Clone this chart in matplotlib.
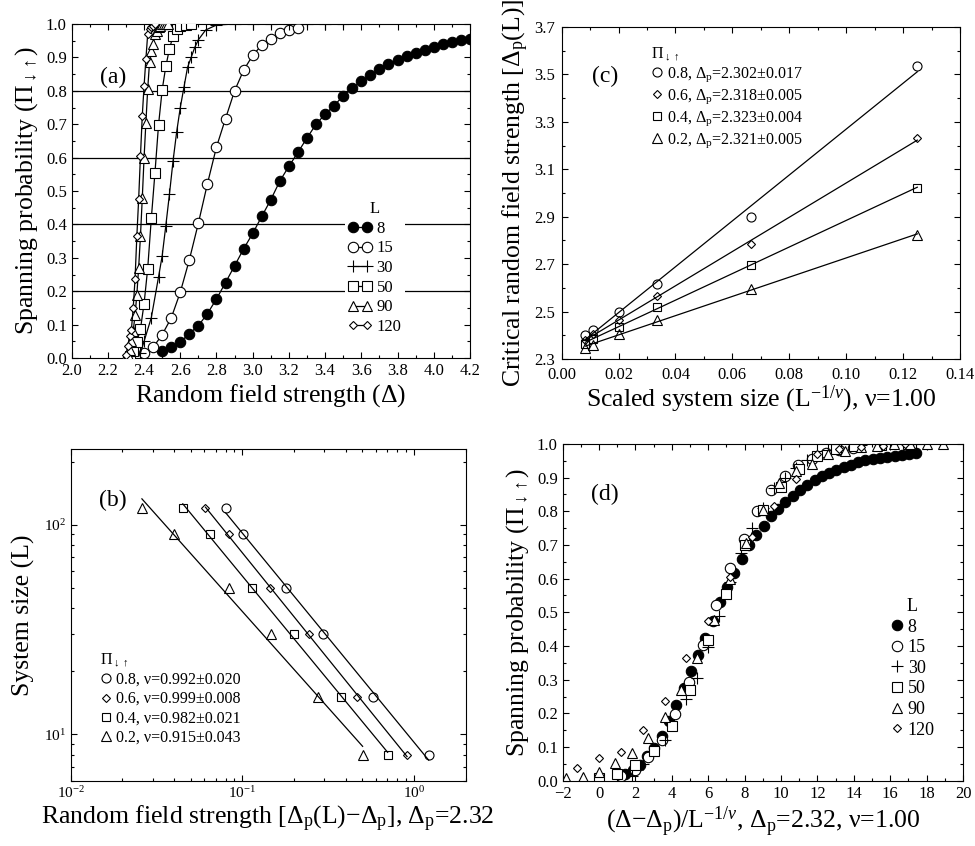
import numpy as np
import matplotlib
matplotlib.use("Agg")
import matplotlib.pyplot as plt
from matplotlib.ticker import MultipleLocator, FormatStrFormatter, NullFormatter

plt.rcParams['font.family'] = ['Liberation Serif', 'DejaVu Serif']
plt.rcParams['mathtext.fontset'] = 'custom'
plt.rcParams['mathtext.rm'] = 'Liberation Serif'
plt.rcParams['mathtext.it'] = 'Liberation Serif:italic'
plt.rcParams['mathtext.bf'] = 'Liberation Serif:bold'
plt.rcParams['axes.linewidth'] = 0.8

# === Daten: Spannwahrscheinlichkeit vs. Feldstaerke ===
sizes = [8, 15, 30, 50, 90, 120]
delta_p = 2.32

x8 = [2.50, 2.55, 2.60, 2.65, 2.70, 2.75, 2.80, 2.85, 2.90, 2.95, 3.00, 3.05, 3.10, 3.15,
      3.20, 3.25, 3.30, 3.35, 3.40, 3.45, 3.50, 3.55, 3.60, 3.65, 3.70, 3.75, 3.80, 3.85,
      3.90, 3.95, 4.00, 4.05, 4.10, 4.15, 4.20, 4.25, 4.30, 4.35, 4.40, 4.45, 4.50]
y8 = [0.020, 0.033, 0.048, 0.073, 0.097, 0.133, 0.177, 0.226, 0.276, 0.327, 0.373, 0.424, 0.474, 0.530,
      0.574, 0.616, 0.659, 0.700, 0.730, 0.756, 0.785, 0.808, 0.829, 0.846, 0.864, 0.879, 0.892, 0.904,
      0.914, 0.923, 0.931, 0.939, 0.945, 0.951, 0.955, 0.958, 0.961, 0.964, 0.967, 0.970, 0.973]

x15 = [2.40, 2.45, 2.50, 2.55, 2.60, 2.65, 2.70, 2.75, 2.80, 2.85, 2.90, 2.95, 3.00, 3.05,
       3.10, 3.15, 3.20, 3.25]
y15 = [0.014, 0.032, 0.070, 0.120, 0.197, 0.294, 0.404, 0.522, 0.632, 0.717, 0.800, 0.862, 0.906, 0.937,
       0.956, 0.972, 0.982, 0.989]

x30 = [2.38, 2.40, 2.44, 2.48, 2.50, 2.52, 2.54, 2.56, 2.58, 2.60, 2.62, 2.64, 2.66, 2.68,
       2.70, 2.74, 2.80, 2.90, 3.00, 3.10, 3.20, 3.30, 3.40, 3.50]
y30 = [0.015, 0.050, 0.121, 0.243, 0.306, 0.396, 0.490, 0.590, 0.677, 0.750, 0.810, 0.870, 0.900, 0.930,
       0.953, 0.982, 0.997, 1.0, 1.0, 1.0, 1.0, 1.0, 1.0, 1.0]

x50 = [2.32, 2.34, 2.36, 2.38, 2.40, 2.42, 2.44, 2.46, 2.48, 2.50, 2.52, 2.54, 2.56, 2.58,
       2.60, 2.63, 2.66]
y50 = [0.007, 0.020, 0.047, 0.087, 0.163, 0.268, 0.418, 0.554, 0.699, 0.803, 0.873, 0.925, 0.965, 0.985,
       0.993, 0.998, 1.0]

x90 = [2.30, 2.31, 2.32, 2.33, 2.34, 2.35, 2.36, 2.37, 2.38, 2.39, 2.40, 2.41, 2.42, 2.43,
       2.44, 2.45, 2.46, 2.47, 2.48, 2.49, 2.50, 2.51, 2.52, 2.53]
y90 = [0.007, 0.010, 0.025, 0.052, 0.081, 0.128, 0.190, 0.270, 0.365, 0.478, 0.600, 0.705, 0.805, 0.885,
       0.920, 0.940, 0.970, 0.980, 0.990, 0.995, 1.0, 1.0, 1.0, 1.0]

x120 = [2.30, 2.31, 2.32, 2.33, 2.34, 2.35, 2.36, 2.37, 2.38, 2.39, 2.40, 2.41, 2.42, 2.43,
        2.44, 2.45, 2.46]
y120 = [0.010, 0.037, 0.066, 0.085, 0.150, 0.236, 0.364, 0.475, 0.605, 0.725, 0.815, 0.895, 0.970, 0.985,
        0.990, 0.995, 1.0]

# === Daten: kritische Feldstaerke Delta_p(L) fuer die vier Schwellen ===
pi_levels = [0.8, 0.6, 0.4, 0.2]
dpL_08 = [3.537, 2.898, 2.615, 2.499, 2.421, 2.400]
dpL_06 = [3.231, 2.783, 2.564, 2.465, 2.404, 2.381]
dpL_04 = [3.022, 2.698, 2.521, 2.434, 2.385, 2.365]
dpL_02 = [2.822, 2.597, 2.466, 2.404, 2.360, 2.346]
labels_c = ['0.8, $\\Delta_{\\rm p}$=2.302±0.017', '0.6, $\\Delta_{\\rm p}$=2.318±0.005',
            '0.4, $\\Delta_{\\rm p}$=2.323±0.004', '0.2, $\\Delta_{\\rm p}$=2.321±0.005']
labels_b = ['0.8, ν=0.992±0.020', '0.6, ν=0.999±0.008',
            '0.4, ν=0.982±0.021', '0.2, ν=0.915±0.043']

curves = [(x8, y8), (x15, y15), (x30, y30), (x50, y50), (x90, y90), (x120, y120)]
dpL_all = [dpL_08, dpL_06, dpL_04, dpL_02]

# Markerstile pro L
mk = {8: dict(marker='o', ms=7.5, mfc='black'),
      15: dict(marker='o', ms=7.5, mfc='white'),
      30: dict(marker='+', ms=8.5, mfc='none'),
      50: dict(marker='s', ms=6.5, mfc='white'),
      90: dict(marker='^', ms=7.5, mfc='white'),
      120: dict(marker='D', ms=3.8, mfc='white')}
mk_pi = [dict(marker='o', ms=6.5), dict(marker='D', ms=3.6),
         dict(marker='s', ms=5.8), dict(marker='^', ms=6.5)]


def style(ax, size=12):
    ax.tick_params(which='both', direction='in', top=True, right=True, labelsize=size,
                   width=0.8, colors='black')
    ax.tick_params(which='major', length=4.5)
    ax.tick_params(which='minor', length=2.2)


fig = plt.figure(figsize=(9.75, 8.46), dpi=100)
ax_a = fig.add_axes([0.0735, 0.5768, 0.4085, 0.3948])
ax_c = fig.add_axes([0.5761, 0.5757, 0.4085, 0.3924])
ax_b = fig.add_axes([0.0725, 0.0772, 0.4051, 0.3920])
ax_d = fig.add_axes([0.5771, 0.0772, 0.4106, 0.3980])

# === (a) ===
for yh in [0.2, 0.4, 0.6, 0.8]:
    ax_a.axhline(yh, color='black', lw=0.9, zorder=1)
for L, (xs, ys) in zip(sizes, curves):
    ax_a.plot(xs, ys, color='black', lw=0.9, mec='black', mew=0.8, label=str(L), zorder=3, **mk[L])
ax_a.set_xlim(2.0, 4.2)
ax_a.set_ylim(0.0, 1.0)
ax_a.xaxis.set_major_locator(MultipleLocator(0.2))
ax_a.xaxis.set_minor_locator(MultipleLocator(0.1))
ax_a.yaxis.set_major_locator(MultipleLocator(0.1))
ax_a.yaxis.set_minor_locator(MultipleLocator(0.05))
ax_a.xaxis.set_major_formatter(FormatStrFormatter('%.1f'))
ax_a.yaxis.set_major_formatter(FormatStrFormatter('%.1f'))
style(ax_a)
ax_a.set_xlabel('Random field strength ($\\Delta$)', fontsize=18.5, labelpad=2)
ax_a.set_ylabel('Spanning probability ($\\Pi_{\\downarrow\\uparrow}$)', fontsize=18.5, labelpad=4)
ax_a.text(0.105, 0.84, '(a)', transform=ax_a.transAxes, fontsize=17, ha='center', va='center')
leg = ax_a.legend(title='L', loc='upper left', bbox_to_anchor=(0.665, 0.505), numpoints=2,
                  handlelength=1.4, handletextpad=0.3, labelspacing=0.22, fontsize=12,
                  title_fontsize=12, frameon=True, fancybox=False, borderpad=0.2)
leg.get_frame().set_edgecolor('none')
leg.get_frame().set_facecolor('white')
leg.get_frame().set_alpha(1)

# === (c) ===
inv_L = [1.0 / L for L in sizes]
for dp, st, lab in zip(dpL_all, mk_pi, labels_c):
    coef = np.polyfit(inv_L, dp, 1)
    xf = np.array([min(inv_L), max(inv_L)])
    ax_c.plot(xf, np.polyval(coef, xf), color='black', lw=0.9)
    ax_c.plot(inv_L, dp, ls='none', mfc='none', mec='black', mew=0.8, label=lab, **st)
ax_c.set_xlim(0.0, 0.14)
ax_c.set_ylim(2.3, 3.7)
ax_c.xaxis.set_major_locator(MultipleLocator(0.02))
ax_c.xaxis.set_minor_locator(MultipleLocator(0.01))
ax_c.yaxis.set_major_locator(MultipleLocator(0.2, offset=0.1))
ax_c.yaxis.set_minor_locator(MultipleLocator(0.1))
ax_c.xaxis.set_major_formatter(FormatStrFormatter('%.2f'))
ax_c.yaxis.set_major_formatter(FormatStrFormatter('%.1f'))
style(ax_c)
ax_c.tick_params(axis='x', which='major', pad=6)
ax_c.tick_params(axis='y', which='major', pad=5)
ax_c.set_xlabel('Scaled system size (L$^{-1/\\nu}$), ν=1.00', fontsize=18.5, labelpad=0)
ax_c.set_ylabel('Critical random field strength [$\\Delta_{\\rm p}$(L)]', fontsize=18.5, labelpad=2)
ax_c.text(0.11, 0.85, '(c)', transform=ax_c.transAxes, fontsize=17, ha='center', va='center')
ax_c.legend(title='$\\Pi_{\\downarrow\\uparrow}$', loc='upper left', bbox_to_anchor=(0.2, 0.975),
            numpoints=1, handlelength=0.8, handletextpad=0.2, labelspacing=0.2, fontsize=11.5,
            title_fontsize=11.5, frameon=False, borderpad=0.1, alignment='left')

# === (b) ===
for dp, st, lab in zip(dpL_all, mk_pi, labels_b):
    dx = np.array(dp) - delta_p
    coef = np.polyfit(np.log10(dx), np.log10(sizes), 1)
    xf = np.array([dx.min(), dx.max()])
    ax_b.plot(xf, 10 ** np.polyval(coef, np.log10(xf)), color='black', lw=0.9)
    ax_b.plot(dx, sizes, ls='none', mfc='none', mec='black', mew=0.8, label=lab, **st)
ax_b.set_xscale('log')
ax_b.set_yscale('log')
ax_b.set_xlim(0.01, 2.0)
ax_b.set_ylim(6, 230)
ax_b.xaxis.set_minor_formatter(NullFormatter())
ax_b.yaxis.set_minor_formatter(NullFormatter())
style(ax_b, size=11)
ax_b.set_xlabel('Random field strength [$\\Delta_{\\rm p}$(L)−$\\Delta_{\\rm p}$], $\\Delta_{\\rm p}$=2.32',
                fontsize=18.5, labelpad=2)
ax_b.set_ylabel('System size (L)', fontsize=18.5, labelpad=6)
ax_b.text(0.107, 0.846, '(b)', transform=ax_b.transAxes, fontsize=17, ha='center', va='center')
ax_b.legend(title='$\\Pi_{\\downarrow\\uparrow}$', loc='upper left', bbox_to_anchor=(0.05, 0.42),
            numpoints=1, handlelength=0.8, handletextpad=0.2, labelspacing=0.2, fontsize=11.5,
            title_fontsize=11.5, frameon=False, borderpad=0.1, alignment='left')

# === (d) Skalierung ===
for L, (xs, ys) in zip(sizes, curves):
    xs_scaled = (np.array(xs) - delta_p) * L
    ax_d.plot(xs_scaled, ys, ls='none', mec='black', mew=0.8, label=str(L), **mk[L])
ax_d.set_xlim(-2, 20)
ax_d.set_ylim(0.0, 1.0)
ax_d.xaxis.set_major_locator(MultipleLocator(2))
ax_d.xaxis.set_minor_locator(MultipleLocator(1))
ax_d.yaxis.set_major_locator(MultipleLocator(0.1))
ax_d.yaxis.set_minor_locator(MultipleLocator(0.05))
ax_d.yaxis.set_major_formatter(FormatStrFormatter('%.1f'))
style(ax_d)
ax_d.set_xlabel('($\\Delta$−$\\Delta_{\\rm p}$)/L$^{-1/\\nu}$, $\\Delta_{\\rm p}$=2.32, ν=1.00',
                fontsize=18.5, labelpad=2)
ax_d.set_ylabel('Spanning probability ($\\Pi_{\\downarrow\\uparrow}$)', fontsize=18.5, labelpad=4)
ax_d.text(0.106, 0.85, '(d)', transform=ax_d.transAxes, fontsize=17, ha='center', va='center')
ax_d.legend(title='L', loc='upper left', bbox_to_anchor=(0.79, 0.575), numpoints=1,
            handlelength=0.8, handletextpad=0.2, labelspacing=0.2, fontsize=13,
            title_fontsize=13, frameon=False, borderpad=0.1)

fig.savefig('out.png', dpi=100)
